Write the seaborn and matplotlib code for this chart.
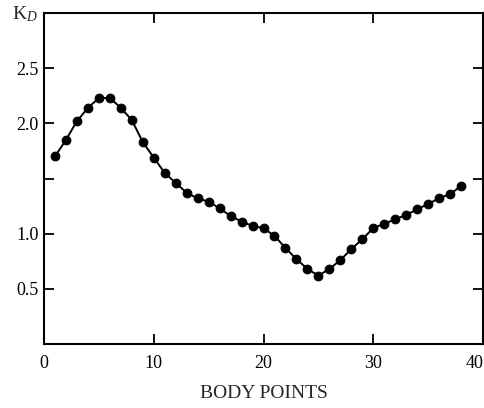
import matplotlib
matplotlib.use("Agg")
import matplotlib.pyplot as plt
import seaborn as sns
import pandas as pd

body_points = list(range(1, 39))
kd_values = [1.70, 1.85, 2.02, 2.14, 2.23, 2.23, 2.14, 2.03, 1.83, 1.69,
             1.55, 1.46, 1.37, 1.32, 1.29, 1.23, 1.16, 1.11, 1.07, 1.05,
             0.98, 0.87, 0.77, 0.68, 0.62, 0.68, 0.76, 0.86, 0.95, 1.05,
             1.09, 1.13, 1.17, 1.22, 1.27, 1.32, 1.36, 1.43]
x_ticks = [0, 10, 20, 30, 40]
x_tick_labels = ["0", "10", "20", "30", "40"]
y_ticks = [0.5, 1.0, 1.5, 2.0, 2.5]
y_tick_labels = ["0.5", "1.0", "", "2.0", "2.5"]

sns.set_style("ticks")
plt.rcParams["font.family"] = ["Liberation Serif", "DejaVu Serif"]
plt.rcParams["mathtext.fontset"] = "custom"
plt.rcParams["mathtext.rm"] = "Liberation Serif"
plt.rcParams["mathtext.it"] = "Liberation Serif:italic"

df = pd.DataFrame({"x": body_points, "y": kd_values})

fig = plt.figure(figsize=(4.85, 4.08), dpi=100)
ax = fig.add_axes([44 / 485, 1 - 344 / 408, (483 - 44) / 485, (344 - 13) / 408])

sns.lineplot(data=df, x="x", y="y", ax=ax, color="black", linewidth=1.4,
             marker="o", markersize=6.3, markeredgecolor="black",
             markerfacecolor="black")

ax.set_xlim(0, 40)
ax.set_ylim(0, 3.0)
ax.set_xticks(x_ticks)
ax.set_xticklabels(x_tick_labels, fontsize=13)
ax.set_yticks(y_ticks)
ax.set_yticklabels(y_tick_labels, fontsize=13)
ax.tick_params(axis="both", which="both", direction="in", length=7, width=1.3,
               top=True, right=True, labeltop=False, labelright=False,
               colors="black")
ax.tick_params(axis="x", pad=8)
ax.tick_params(axis="y", pad=4)
for lbl in ax.get_xticklabels():
    if lbl.get_text() == "40":
        lbl.set_horizontalalignment("right")
for s in ax.spines.values():
    s.set_visible(True)
    s.set_linewidth(1.5)
    s.set_color("black")

ax.set_xlabel("BODY POINTS", fontsize=14, labelpad=9)
ax.set_ylabel("")
fig.text(12 / 485, 1 - 19 / 408, r"K$_{\mathit{D}}$", fontsize=14, ha="left",
         va="baseline")

fig.savefig("out.png", dpi=100)
